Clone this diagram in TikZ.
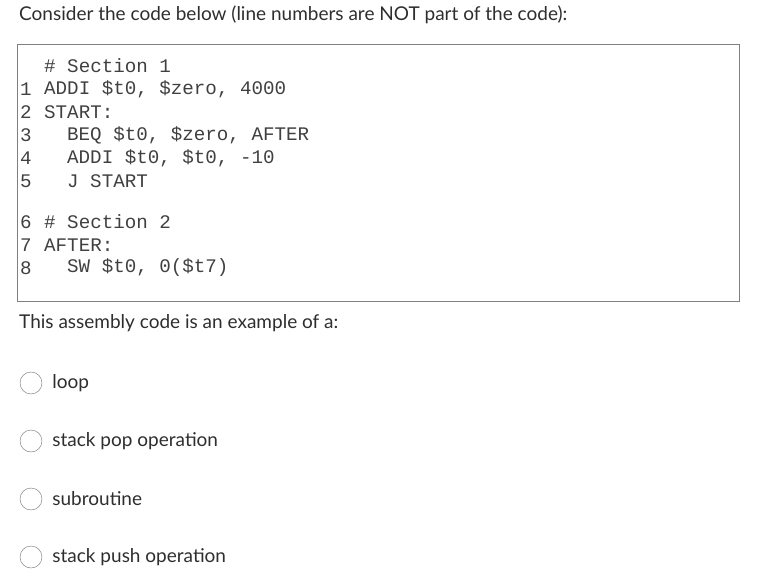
\documentclass[tikz,border=0pt]{standalone}
\usepackage{fontspec}
\setmainfont{Lato}
\newfontfamily\codefont{Liberation Mono}
\usetikzlibrary{positioning}

\begin{document}
\begin{tikzpicture}[x=1pt, y=-1pt,
        txt/.style={anchor=west, inner sep=0pt, text=black!82, font=\fontsize{19}{22}\selectfont},
        code/.style={anchor=west, inner sep=0pt, text=black!75, font=\codefont\fontsize{19.2}{22}\selectfont},
        radio/.style={circle, draw=black!55, fill=white, minimum size=22pt, inner sep=0pt}
    ]
    \useasboundingbox (0,0) rectangle (781,577);

    % Question
    \node[txt] (question) at (19,15) {Consider the code below (line numbers are NOT part of the code):};

    % Code box
    \node[draw=black!50, line width=0.8pt, minimum width=722pt, minimum height=257pt, anchor=north west] (box) at (17,44) {};

    % Code lines
    \node[code] (c0) at (44,66) {\# Section 1};
    \foreach \n/\y/\ind/\txt in {1/89/44/ADDI \$t0{,} \$zero{,} 4000, 2/112/44/START:,
        3/135/67/BEQ \$t0{,} \$zero{,} AFTER, 4/158/67/ADDI \$t0{,} \$t0{,} -10, 5/181/67/J START,
        6/222/44/\# Section 2, 7/245/44/AFTER:, 8/268/67/SW \$t0{,} 0(\$t7)}
    {
        \node[code] (n\n) at (20,\y) {\n};
        \node[code] (c\n) at (\ind,\y) {\txt};
    }

    % Prompt
    \node[txt] (prompt) at (19,323) {This assembly code is an example of a:};

    % Choices
    \foreach \i/\y/\lab in {1/383/loop, 2/441/stack pop operation, 3/499/subroutine, 4/557/stack push operation}
    {
        \node[radio] (r\i) at (31,\y) {};
        \node[txt, right=10pt of r\i] (a\i) {\lab};
    }
\end{tikzpicture}
\end{document}
